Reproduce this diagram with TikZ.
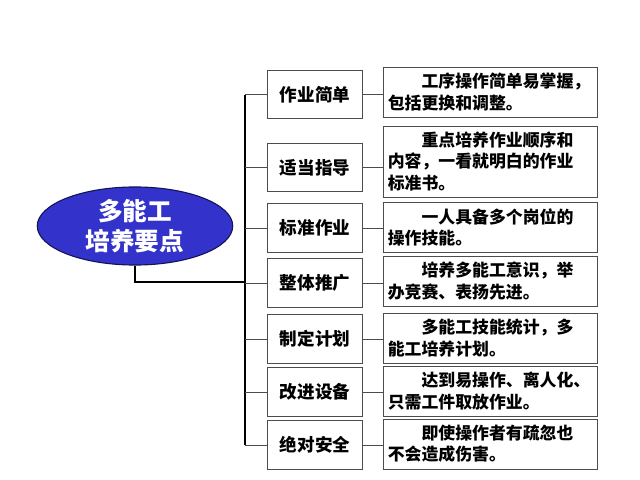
\documentclass[tikz,border=0pt]{standalone}
\usepackage{fontspec}
\setmainfont{Noto Sans CJK SC}
\usetikzlibrary{shapes.geometric}
\definecolor{rootblue}{RGB}{51,51,204}
\definecolor{rootedge}{RGB}{20,20,90}
\begin{document}
\begin{tikzpicture}[x=0.025cm, y=-0.025cm,
  item/.style={draw=black!70, line width=0.6pt, minimum width=68pt, minimum height=34.5pt, inner sep=0pt, font=\fontsize{12.5}{15}\selectfont\bfseries},
  note/.style={draw=black!70, line width=0.6pt, text width=146pt, inner xsep=3pt, inner ysep=2pt, align=left, font=\fontsize{12}{15}\selectfont\bfseries},
  link/.style={draw=black!70, line width=0.6pt},
  trunk/.style={draw=black, line width=1.5pt}
  ]
  \useasboundingbox (0,0) rectangle (640,480);

  \node (root) at (135,226) [ellipse, draw=rootedge, line width=0.8pt, fill=rootblue, minimum width=139pt, minimum height=55.5pt, inner sep=0pt, align=center, text=white, font=\fontsize{17.5}{21}\selectfont\bfseries] {多能工\\培养要点};

  \node (i1) at (315,94.5) [item] {作业简单};
  \node (i2) at (315,167.5) [item] {适当指导};
  \node (i3) at (315,228) [item] {标准作业};
  \node (i4) at (315,283) [item] {整体推广};
  \node (i5) at (315,339) [item] {制定计划};
  \node (i6) at (315,392) [item] {改进设备};
  \node (i7) at (315,445) [item] {绝对安全};

  \node (n1) at (490.5,92) [note, minimum height=35.5pt] {\hspace*{2em}工序操作简单易掌握，\\包括更换和调整。};
  \node (n2) at (490.5,161.5) [note, minimum height=50.5pt] {\hspace*{2em}重点培养作业顺序和\\内容，一看就明白的作业\\标准书。};
  \node (n3) at (490.5,227.5) [note, minimum height=35pt] {\hspace*{2em}一人具备多个岗位的\\操作技能。};
  \node (n4) at (490.5,281) [note, minimum height=35.5pt] {\hspace*{2em}培养多能工意识，举\\办竞赛、表扬先进。};
  \node (n5) at (490.5,338) [note, minimum height=35.5pt] {\hspace*{2em}多能工技能统计，多\\能工培养计划。};
  \node (n6) at (490.5,391) [note, minimum height=35.5pt] {\hspace*{2em}达到易操作、离人化、\\只需工件取放作业。};
  \node (n7) at (490.5,444) [note, minimum height=35.5pt] {\hspace*{2em}即使操作者有疏忽也\\不会造成伤害。};

  % trunk from the root to the spine
  \coordinate (hub) at (245,282);
  \coordinate (top) at (245,94.5);
  \coordinate (bottom) at (245,445);
  \draw[trunk] (root.south) |- (hub);
  \draw[trunk] (top) -- (bottom);

  % branches
  \draw[link] (top) -- (i1.west);
  \draw[link] (i2.west -| top) -- (i2.west);
  \draw[link] (i3.west -| top) -- (i3.west);
  \draw[link] (i4.west -| top) -- (i4.west);
  \draw[link] (i5.west -| top) -- (i5.west);
  \draw[link] (i6.west -| top) -- (i6.west);
  \draw[link] (bottom) -- (i7.west);

  \draw[link] (i1.east) -- (i1.east -| n1.west);
  \draw[link] (i2.east) -- (i2.east -| n2.west);
  \draw[link] (i3.east) -- (i3.east -| n3.west);
  \draw[link] (i4.east) -- (i4.east -| n4.west);
  \draw[link] (i5.east) -- (i5.east -| n5.west);
  \draw[link] (i6.east) -- (i6.east -| n6.west);
  \draw[link] (i7.east) -- (i7.east -| n7.west);
\end{tikzpicture}
\end{document}
